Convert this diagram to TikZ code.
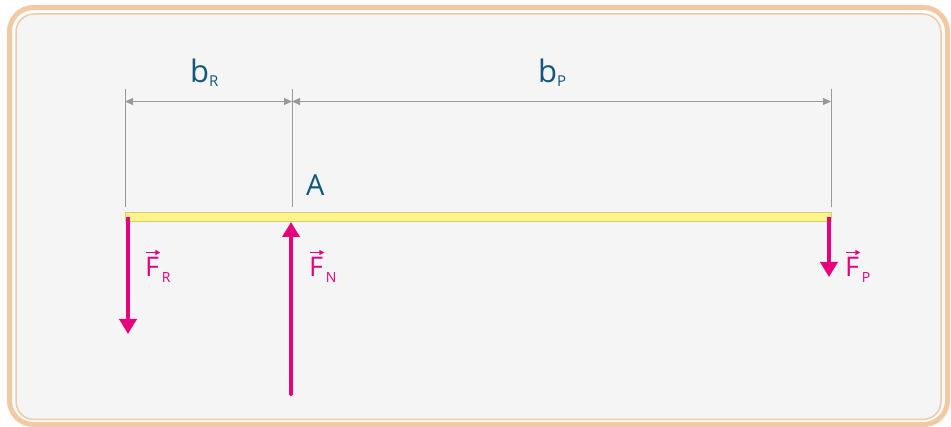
\documentclass[tikz,border=0pt]{standalone}
\usepackage{fontspec}
\setmainfont{Open Sans}
\usetikzlibrary{arrows.meta}
\definecolor{frameC}{HTML}{F1C9A3}
\definecolor{bgC}{HTML}{F5F5F5}
\definecolor{magC}{HTML}{E6007E}
\definecolor{txtC}{HTML}{12587A}
\definecolor{dimC}{HTML}{9A9A9A}
\definecolor{beamC}{HTML}{FFF38C}
\definecolor{beamB}{HTML}{D6CC6E}
\tikzset{
  extline/.style={draw=dimC, line width=1pt},
  dimline/.style={draw=dimC, line width=1pt, {Triangle[length=8pt,width=7pt]}-{Triangle[length=8pt,width=7pt]}},
  force/.style={draw=magC, line width=4pt, -{Triangle[length=15pt,width=17pt]}},
  lbl/.style={inner sep=0pt, anchor=base west, text=txtC},
  flbl/.style={inner sep=0pt, anchor=base west, text=magC, font=\fontsize{27}{30}\selectfont},
  vecarrow/.style={draw=magC, line width=1.2pt, -{Triangle[length=5pt,width=5pt]}}
}
\begin{document}
\begin{tikzpicture}[x=1pt,y=-1pt]
\useasboundingbox (0,0) rectangle (951,427);
\fill[white] (0,0) rectangle (951,427);
% frame
\draw[frameC, line width=5pt, rounded corners=24pt] (9.5,7.5) rectangle (947.5,424.5);
\draw[frameC, fill=bgC, line width=1.5pt, rounded corners=18pt] (16,14) rectangle (941,419.5);
% extension lines
\coordinate (e1t) at (125,89); \coordinate (e1b) at (125,207);
\coordinate (e2t) at (292,89); \coordinate (e2b) at (292,207);
\coordinate (e3t) at (831,89); \coordinate (e3b) at (831,207);
\draw[extline] (e1t) -- (e1b);
\draw[extline] (e2t) -- (e2b);
\draw[extline] (e3t) -- (e3b);
% dimension lines
\coordinate (d1) at (125,101.5); \coordinate (d2) at (292,101.5); \coordinate (d3) at (831,101.5);
\draw[dimline] (d1) -- (d2);
\draw[dimline] (d2) -- (d3);
% beam
\node[draw=beamB, fill=beamC, line width=1pt, minimum width=706pt, minimum height=9pt, inner sep=0pt, anchor=north west] (beam) at (125,212) {};
% labels
\node[lbl, font=\fontsize{31}{34}\selectfont] (bR) at (190,83) {b\textsubscript{\fontsize{15}{16}\selectfont R}};
\node[lbl, font=\fontsize{31}{34}\selectfont] (bP) at (538,83) {b\textsubscript{\fontsize{15}{16}\selectfont P}};
\node[lbl, font=\fontsize{29}{32}\selectfont] (A) at (306,196) {A};
% forces
\coordinate (fr1) at (128,217); \coordinate (fr2) at (128,334);
\coordinate (fn1) at (291,394); \coordinate (fn2) at (291,222);
\coordinate (fp1) at (829,217); \coordinate (fp2) at (829,277);
\draw[force] (fr1) -- (fr2);
\draw[force, line cap=round] (fn1) -- (fn2);
\draw[force] (fp1) -- (fp2);
% force labels
\node[flbl] (FR) at (145,277) {F};
\node[inner sep=0pt, anchor=base west, text=magC, font=\fontsize{14}{15}\selectfont] (FRs) at (FR.base east) {\raisebox{-6pt}{\,R}};
\draw[vecarrow] ([xshift=1pt,yshift=5pt]FR.north west) -- ([xshift=1pt,yshift=5pt]FR.north east);
\node[flbl] (FN) at (309,277) {F};
\node[inner sep=0pt, anchor=base west, text=magC, font=\fontsize{14}{15}\selectfont] (FNs) at (FN.base east) {\raisebox{-6pt}{\,N}};
\draw[vecarrow] ([xshift=1pt,yshift=5pt]FN.north west) -- ([xshift=1pt,yshift=5pt]FN.north east);
\node[flbl] (FP) at (845,277) {F};
\node[inner sep=0pt, anchor=base west, text=magC, font=\fontsize{14}{15}\selectfont] (FPs) at (FP.base east) {\raisebox{-6pt}{\,P}};
\draw[vecarrow] ([xshift=1pt,yshift=5pt]FP.north west) -- ([xshift=1pt,yshift=5pt]FP.north east);
\end{tikzpicture}
\end{document}
